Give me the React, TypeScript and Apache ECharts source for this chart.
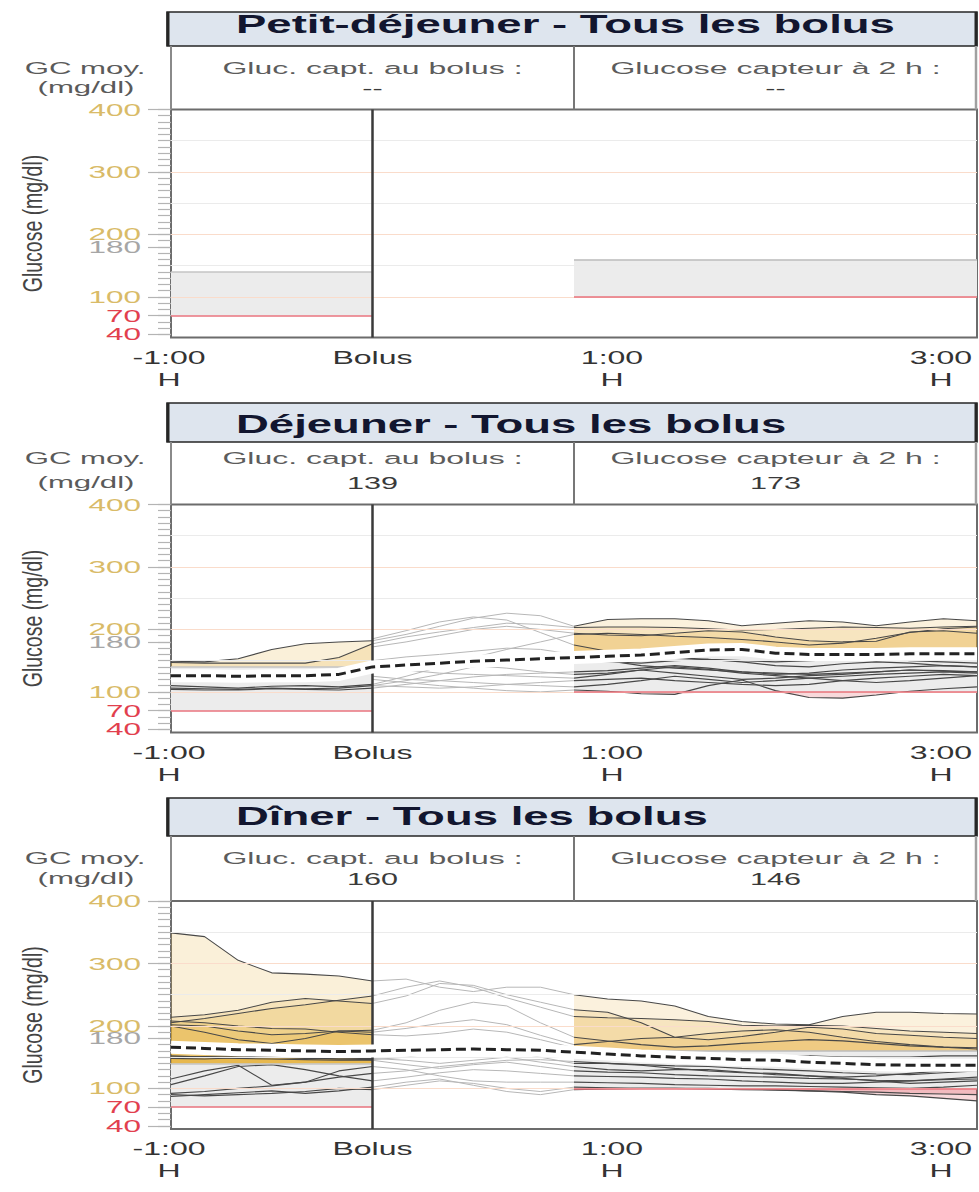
import React, { useEffect, useRef } from "react";
import * as echarts from "echarts";

// Sensor sample times, minutes relative to the meal bolus
const minutes = [-60, -50, -40, -30, -20, -10, 0, 10, 20, 30, 40, 50, 60, 70, 80, 90, 100, 110, 120, 130, 140, 150, 160, 170, 180];

const panelTitles = ["Petit-déjeuner - Tous les bolus", "Déjeuner - Tous les bolus", "Dîner - Tous les bolus"];
const bolusHeader = "Gluc. capt. au bolus :";
const twoHourHeader = "Glucose capteur à 2 h :";
const bolusGlucose = ["--", "139", "160"];
const twoHourGlucose = ["--", "173", "146"];
const avgHeader = ["GC moy.", "(mg/dl)"];
const yAxisTitle = "Glucose (mg/dl)";

const yTickLabels = [40, 70, 100, 180, 200, 300, 400];
const yMinorTicks = [40, 50, 60, 70, 80, 90, 100, 110, 120, 130, 140, 150, 160, 170, 180, 190, 200, 210, 220, 230, 240, 250, 260, 270, 280, 290, 300, 310, 320, 330, 340, 350, 360, 370, 380, 390, 400];
const gridLineValues = [100, 150, 200, 250, 300, 350];
const xTickValues = [-60, 0, 60, 180];
const xTickLabels = ["-1:00", "Bolus", "1:00", "3:00"];
const xTickUnits = ["H", "", "H", "H"];

// Evaluation windows and target ranges (mg/dl)
const preMealWindow = [-60, 0];
const postMealWindow = [60, 180];
const preMealTarget = [70, 140];
const postMealTarget = [100, 160];

type Trace = (number | null)[];
const _ = null;

const breakfastTraces: Trace[] = [];
const breakfastMean: Trace = [];

const lunchTraces: Trace[] = [
  [149, 148, 153, 168, 177, 180, 182, 192, 205, 218, 226, 222, 205, 216, 217, 217, 214, 206, 210, 214, 212, 206, 212, 217, 214],
  [147, 146, 146, 146, 146, 155, 177, 188, 196, 203, 210, 208, 203, 204, 204, 203, 201, 199, 200, 202, 204, 203, 202, 204, 205],
  [110, 108, 106, 109, 110, 108, 112, 125, 140, 155, 168, 180, 192, 194, 192, 189, 187, 184, 180, 175, 178, 186, 195, 201, 204],
  [_, _, _, _, _, _, 172, 180, 190, 200, 205, 200, 194, 191, 190, 194, 198, 196, 188, 182, 180, 181, 196, 198, 194],
  [106, 105, 104, 106, 105, 106, 110, 118, 128, 140, 148, 152, 150, 148, 146, 150, 152, 148, 142, 140, 145, 148, 146, 142, 140],
  [104, 103, 103, 105, 104, 103, 106, 112, 118, 124, 128, 130, 132, 134, 138, 142, 138, 132, 128, 130, 135, 138, 140, 142, 140],
  [_, _, _, _, _, _, 150, 156, 160, 165, 170, 168, 160, 150, 142, 138, 135, 132, 130, 128, 130, 132, 135, 133, 132],
  [_, _, _, _, _, _, 138, 135, 130, 128, 126, 124, 122, 128, 135, 130, 125, 120, 122, 126, 128, 132, 135, 134, 132],
  [_, _, _, _, _, _, 125, 120, 118, 115, 112, 110, 108, 112, 118, 125, 120, 115, 118, 122, 125, 128, 130, 132, 130],
  [_, _, _, _, _, _, 120, 115, 110, 106, 102, 100, 103, 101, 97, 96, 110, 119, 102, 91, 90, 95, 101, 105, 108],
  [_, _, _, _, _, _, 132, 136, 140, 142, 138, 132, 128, 130, 135, 140, 136, 130, 126, 122, 118, 115, 118, 122, 126],
  [_, _, _, _, _, _, 110, 108, 106, 108, 112, 115, 118, 120, 122, 118, 115, 112, 110, 112, 118, 122, 125, 128, 126],
  [_, _, _, _, _, _, 185, 198, 212, 220, 215, 195, 175, 165, 158, 155, 152, 150, 148, 150, 152, 155, 150, 148, 146],
];
const lunchMean: Trace = [126, 126, 125, 126, 126, 128, 140, 143, 146, 149, 151, 153, 155, 157, 159, 163, 167, 168, 162, 160, 160, 160, 161, 161, 161];

const dinnerTraces: Trace[] = [
  [349, 343, 305, 285, 283, 280, 272, 275, 262, 255, 262, 262, 250, 243, 240, 232, 215, 207, 203, 202, 215, 222, 222, 220, 219],
  [214, 218, 225, 238, 244, 240, 236, 248, 268, 265, 250, 238, 226, 222, 205, 182, 178, 183, 190, 198, 195, 188, 185, 182, 180],
  [205, 212, 220, 228, 234, 241, 248, 262, 272, 262, 245, 230, 215, 213, 212, 210, 207, 201, 200, 201, 200, 196, 192, 190, 188],
  [202, 200, 192, 186, 188, 192, 193, 205, 225, 238, 232, 205, 182, 176, 170, 166, 168, 172, 175, 178, 176, 172, 168, 166, 165],
  [200, 190, 178, 172, 180, 192, 190, 196, 204, 210, 202, 185, 170, 175, 180, 182, 188, 192, 194, 190, 182, 175, 170, 166, 163],
  [208, 205, 200, 196, 195, 190, 186, 184, 188, 195, 190, 178, 165, 160, 158, 156, 155, 154, 152, 152, 150, 150, 150, 152, 152],
  [150, 151, 152, 150, 148, 147, 146, 150, 158, 165, 160, 150, 140, 140, 138, 136, 135, 132, 130, 128, 125, 123, 122, 125, 128],
  [148, 147, 149, 150, 149, 147, 148, 145, 140, 145, 150, 142, 135, 130, 128, 130, 130, 126, 122, 120, 118, 120, 124, 128, 132],
  [152, 150, 148, 147, 146, 145, 145, 138, 132, 138, 142, 135, 128, 126, 125, 122, 120, 119, 118, 116, 115, 113, 112, 115, 118],
  [106, 120, 135, 138, 130, 120, 112, 118, 125, 130, 128, 124, 120, 119, 118, 116, 115, 112, 110, 108, 108, 110, 112, 114, 115],
  [115, 128, 137, 105, 110, 128, 135, 130, 120, 112, 110, 110, 110, 109, 108, 106, 105, 104, 104, 103, 102, 101, 100, 102, 105],
  [90, 88, 90, 92, 95, 100, 98, 105, 112, 108, 100, 95, 102, 101, 100, 100, 100, 99, 98, 96, 94, 90, 88, 84, 80],
  [87, 90, 93, 96, 92, 96, 102, 110, 115, 105, 95, 90, 98, 99, 100, 100, 99, 98, 97, 96, 95, 94, 92, 91, 90],
  [92, 95, 100, 104, 110, 118, 124, 128, 135, 140, 145, 146, 143, 140, 137, 132, 128, 125, 124, 120, 116, 112, 108, 110, 112],
];
const dinnerMean: Trace = [166, 164, 162, 161, 160, 159, 160, 161, 162, 163, 162, 161, 158, 155, 152, 150, 148, 146, 145, 142, 140, 138, 137, 137, 137];

const panelTraces = [breakfastTraces, lunchTraces, dinnerTraces];
const panelMeans = [breakfastMean, lunchMean, dinnerMean];

// ---- layout & style ----
const FONT = '"Liberation Sans", Arial, sans-serif';
const Y_MIN = 35;
const Y_MAX = 400;
const GRID_LEFT = 171;
const GRID_WIDTH = 806;
const GRID_HEIGHT = 228;
const LAYOUT = [
  { titleTop: 12, titleBottom: 46, titleY: 24.7, line1: 68, line2: 88, gridTop: 109.5 },
  { titleTop: 403, titleBottom: 442, titleY: 424, line1: 458, line2: 483, gridTop: 504.5 },
  { titleTop: 798, titleBottom: 836, titleY: 816.7, line1: 858, line2: 879, gridTop: 901 },
];
const xLabelShift = [-2, 0, 38, -36];
const GOLD = "#d9bb68";
const RED = "#e2404e";
const GREY_LABEL = "#a6a6a6";
const yLabelColor = (v: number) => (v <= 70 ? RED : v === 180 ? GREY_LABEL : GOLD);
const gridLineColor = (v: number) => (v % 100 === 0 ? "#fadccb" : "#ebebeb");
const TRACE_DARK = "#484848";
const TRACE_LIGHT = "#b7b7b7";
const HIGH_FILL = "#e6ab2c";
const LOW_FILL = "#e0505c";

const pointsIn = (values: Trace, win: number[]) =>
  minutes.map((m, i) => [m, values[i] ?? null] as [number, number | null]).filter(([m]) => m >= win[0] && m <= win[1]);

const clipBeyond = (values: Trace, win: number[], limit: number, above: boolean) => {
  const pts = pointsIn(values, win);
  const hit = pts.some(([, v]) => v != null && (above ? v > limit : v < limit));
  if (!hit) return null;
  return pts.map(([m, v]) => [m, v == null ? null : above ? Math.max(v, limit) : Math.min(v, limit)]);
};

function buildOption() {
  const grid: any[] = [];
  const xAxis: any[] = [];
  const yAxis: any[] = [];
  const series: any[] = [];

  LAYOUT.forEach((L, p) => {
    grid.push({
      left: GRID_LEFT,
      top: L.gridTop,
      width: GRID_WIDTH,
      height: GRID_HEIGHT,
      show: true,
      borderColor: "#6c6c6c",
      borderWidth: 2,
      backgroundColor: "#ffffff",
    });
    xAxis.push({
      gridIndex: p,
      type: "value",
      min: -60,
      max: 180,
      axisLine: { show: false, onZero: false },
      axisTick: { show: false },
      axisLabel: { show: false },
      splitLine: { show: false },
    });
    const yBase = {
      gridIndex: p,
      type: "value",
      min: Y_MIN,
      max: Y_MAX,
      position: "left",
      axisLine: { show: false, onZero: false },
      axisLabel: { show: false },
      splitLine: { show: false },
    };
    yAxis.push({
      ...yBase,
      axisTick: { show: true, inside: false, length: 13, customValues: yMinorTicks, lineStyle: { color: "#b4b4b4", width: 1.2 } },
    });
    yAxis.push({
      ...yBase,
      axisTick: { show: true, inside: false, length: 23, customValues: yTickLabels, lineStyle: { color: "#b4b4b4", width: 1.2 } },
    });

    const base = { type: "line", xAxisIndex: p, yAxisIndex: 2 * p, symbol: "none", silent: true, animation: false };

    // horizontal reference lines
    series.push({
      ...base,
      data: [],
      z: 1,
      markLine: {
        silent: true,
        animation: false,
        symbol: ["none", "none"],
        label: { show: false },
        lineStyle: { type: "solid", width: 1 },
        data: gridLineValues.map((v) => ({ yAxis: v, lineStyle: { color: gridLineColor(v), width: 1, type: "solid" } })),
      },
    });

    // target bands with their limits
    const bandLine = (win: number[], v: number, color: string) => [
      { coord: [win[0], v], lineStyle: { color, width: 1.5, type: "solid" } },
      { coord: [win[1], v] },
    ];
    series.push({
      ...base,
      data: [],
      z: 1,
      markArea: {
        silent: true,
        animation: false,
        itemStyle: { color: "#ececec" },
        data: [
          [{ coord: [preMealWindow[0], preMealTarget[0]] }, { coord: [preMealWindow[1], preMealTarget[1]] }],
          [{ coord: [postMealWindow[0], postMealTarget[0]] }, { coord: [postMealWindow[1], postMealTarget[1]] }],
        ],
      },
      markLine: {
        silent: true,
        animation: false,
        symbol: ["none", "none"],
        label: { show: false },
        lineStyle: { type: "solid" },
        data: [
          bandLine(preMealWindow, preMealTarget[0], "#e8737e"),
          bandLine(preMealWindow, preMealTarget[1], "#c4c4c4"),
          bandLine(postMealWindow, postMealTarget[0], "#e8737e"),
          bandLine(postMealWindow, postMealTarget[1], "#bdbdbd"),
        ],
      },
    });

    // bolus marker
    series.push({
      ...base,
      data: [],
      z: 2,
      markLine: {
        silent: true,
        animation: false,
        symbol: ["none", "none"],
        label: { show: false },
        lineStyle: { type: "solid", color: "#3a3a3a", width: 2.5 },
        data: [{ xAxis: 0 }],
      },
    });

    const traces = panelTraces[p];
    // excursion fills (above / below target inside each window)
    traces.forEach((tr) => {
      const fills = [
        [clipBeyond(tr, preMealWindow, preMealTarget[1], true), preMealTarget[1], HIGH_FILL, 0.18],
        [clipBeyond(tr, postMealWindow, postMealTarget[1], true), postMealTarget[1], HIGH_FILL, 0.16],
        [clipBeyond(tr, preMealWindow, preMealTarget[0], false), preMealTarget[0], LOW_FILL, 0.22],
        [clipBeyond(tr, postMealWindow, postMealTarget[0], false), postMealTarget[0], LOW_FILL, 0.22],
      ] as const;
      fills.forEach(([data, origin, color, opacity]) => {
        if (!data) return;
        series.push({
          ...base,
          data,
          z: 3,
          lineStyle: { width: 0, opacity: 0 },
          areaStyle: { origin, color, opacity },
        });
      });
    });

    // individual sensor traces
    traces.forEach((tr) => {
      series.push({ ...base, data: pointsIn(tr, [-60, 0]), z: 4, lineStyle: { color: TRACE_DARK, width: 1.1 } });
      series.push({ ...base, data: pointsIn(tr, [0, 60]), z: 4, lineStyle: { color: TRACE_LIGHT, width: 1 } });
      series.push({ ...base, data: pointsIn(tr, [60, 180]), z: 4, lineStyle: { color: TRACE_DARK, width: 1.1 } });
    });

    // mean curve with white halo
    const mean = panelMeans[p];
    if (mean.length) {
      const meanData = minutes.map((m, i) => [m, mean[i]]);
      series.push({ ...base, data: meanData, z: 5, lineStyle: { color: "#ffffff", width: 13, cap: "butt" } });
      series.push({ ...base, data: meanData, z: 6, lineStyle: { color: "#222222", width: 3, type: [10, 5], cap: "butt" } });
    }
  });

  return {
    animation: false,
    backgroundColor: "#ffffff",
    textStyle: { fontFamily: FONT },
    grid,
    xAxis,
    yAxis,
    series,
  };
}

const wideText = (x: number, y: number, text: string, font: string, fill: string, align: string, sx: number, extra: any = {}) => ({
  type: "text",
  x,
  y,
  scaleX: sx,
  silent: true,
  z: 20,
  ...extra,
  style: { text, font, fill, align, verticalAlign: "middle" },
});

const vLine = (x: number, y1: number, y2: number, stroke: string, lineWidth: number) => ({
  type: "line",
  silent: true,
  z: 21,
  shape: { x1: x, y1, x2: x, y2 },
  style: { stroke, lineWidth },
});

export default function App() {
  const ref = useRef<HTMLDivElement>(null);

  useEffect(() => {
    if (!ref.current) return;
    const chart = echarts.init(ref.current, null, { renderer: "svg" });
    chart.setOption(buildOption());

    const toPx = (p: number, x: number, y: number) =>
      chart.convertToPixel({ xAxisIndex: p, yAxisIndex: 2 * p } as any, [x, y]) as number[];

    const graphic: any[] = [];
    LAYOUT.forEach((L, p) => {
      const [xLeft, yTop] = toPx(p, -60, Y_MAX);
      const [xRight, yBottom] = toPx(p, 180, Y_MIN);
      const [xPost] = toPx(p, postMealWindow[0], Y_MIN);

      // title bar
      graphic.push({
        type: "rect",
        silent: true,
        z: 20,
        shape: { x: xLeft - 4, y: L.titleTop, width: xRight - xLeft + 4, height: L.titleBottom - L.titleTop },
        style: { fill: "#dee5ee", stroke: "#262626", lineWidth: 1.5 },
      });
      graphic.push(vLine(xLeft - 3, L.titleTop, L.titleBottom, "#262626", 3));
      graphic.push(vLine(xRight - 1, L.titleTop, L.titleBottom, "#262626", 3));
      graphic.push(wideText(236, L.titleY, panelTitles[p], `bold 25px ${FONT}`, "#12162f", "left", 1.82, { z: 22 }));

      // header cells
      graphic.push(vLine(xLeft, L.titleBottom, yTop, "#8a8a8a", 2));
      graphic.push(vLine(xPost, L.titleBottom, yTop, "#777777", 2));
      graphic.push(vLine(xRight - 1, L.titleBottom, yTop, "#a0a0a0", 2.5));
      const bolusCx = (xLeft + xPost) / 2;
      const postCx = (xPost + xRight) / 2;
      graphic.push(wideText(bolusCx, L.line1, bolusHeader, `17px ${FONT}`, "#5c5c5c", "center", 1.88));
      graphic.push(wideText(bolusCx, L.line2, bolusGlucose[p], `17px ${FONT}`, "#3a3a3a", "center", 1.8));
      graphic.push(wideText(postCx, L.line1, twoHourHeader, `17px ${FONT}`, "#5c5c5c", "center", 1.88));
      graphic.push(wideText(postCx, L.line2, twoHourGlucose[p], `17px ${FONT}`, "#3a3a3a", "center", 1.8));
      graphic.push(wideText(85, L.line1, avgHeader[0], `16.5px ${FONT}`, "#5a5a5a", "center", 1.89));
      graphic.push(wideText(86, L.line2 - 1, avgHeader[1], `16.5px ${FONT}`, "#5a5a5a", "center", 1.89));

      // y tick labels
      yTickLabels.forEach((v) => {
        const [, py] = toPx(p, -60, v);
        graphic.push(wideText(141, py, String(v), `17px ${FONT}`, yLabelColor(v), "right", 1.85));
      });

      // y axis title (glyphs widened across the page, like the other texts)
      graphic.push({
        type: "text",
        x: 32,
        y: (yTop + yBottom) / 2,
        rotation: Math.PI / 2,
        scaleY: 1.45,
        silent: true,
        z: 20,
        style: { text: yAxisTitle, font: `19.5px ${FONT}`, fill: "#444444", align: "center", verticalAlign: "middle" },
      });

      // x tick labels
      xTickValues.forEach((m, i) => {
        const [px] = toPx(p, m, Y_MIN);
        const cx = px + xLabelShift[i];
        graphic.push(wideText(cx, yBottom + 20, xTickLabels[i], `18px ${FONT}`, "#333333", "center", 1.78));
        if (xTickUnits[i]) {
          graphic.push(wideText(cx, yBottom + 42, xTickUnits[i], `18px ${FONT}`, "#333333", "center", 1.78));
        }
      });
    });

    chart.setOption({ graphic });

    return () => {
      chart.dispose();
    };
  }, []);

  return (
    <div
      ref={ref}
      style={{ position: "absolute", left: 0, top: 0, width: 979, height: 1192, background: "#ffffff" }}
    />
  );
}
